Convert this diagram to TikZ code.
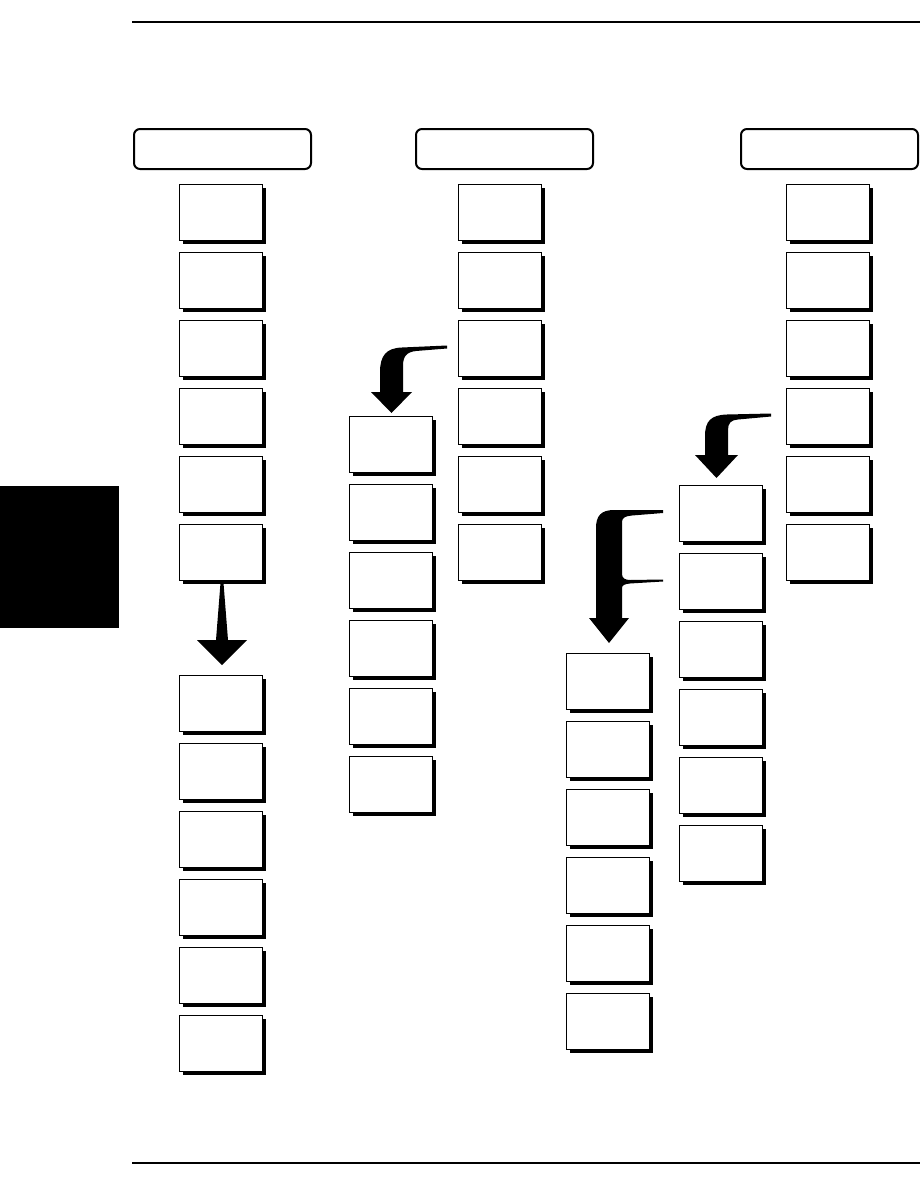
\documentclass[tikz,border=0pt]{standalone}
\usetikzlibrary{shadows}
\begin{document}
\begin{tikzpicture}[x=0.75pt,y=-0.75pt,
  card/.style={draw=black, line width=1.1pt, fill=white, minimum width=62.25pt, minimum height=42pt, inner sep=0pt, anchor=north west,
    drop shadow={shadow xshift=2.4pt, shadow yshift=-2.4pt, fill=black, opacity=1}},
  header/.style={draw=black, line width=1.5pt, rounded corners=4.5pt, minimum width=132.75pt, minimum height=30pt, inner sep=0pt, anchor=north west},
  rule/.style={line width=1.1pt},
  blockarrow/.style={fill=black, draw=none}]
\useasboundingbox (0,0) rectangle (924,1181);
% page rules and tab
\draw[rule] (132,22) -- (920,22);
\draw[rule] (132,1163) -- (920,1163);
\fill[black] (0,486) rectangle (119,628);
% headers
\node[header] (h1) at (133,128) {};
\node[header] (h2) at (415,128) {};
\node[header] (h3) at (740,128) {};
% column 1
\foreach \y [count=\n] in {184,252,320,388,456,524} \node[card] (a\n) at (179,\y) {};
\foreach \y [count=\n] in {675,743,811,879,947,1015} \node[card] (b\n) at (179,\y) {};
% column 2
\foreach \y [count=\n] in {184,252,320,388,456,524} \node[card] (c\n) at (458,\y) {};
\foreach \y [count=\n] in {416,484,552,620,688,756} \node[card] (d\n) at (349,\y) {};
% column 3
\foreach \y [count=\n] in {184,252,320,388,456,524} \node[card] (e\n) at (786,\y) {};
\foreach \y [count=\n] in {485,553,621,689,757,825} \node[card] (f\n) at (679,\y) {};
\foreach \y [count=\n] in {653,721,789,857,925,993} \node[card] (g\n) at (566,\y) {};
% arrows
\fill[blockarrow] (220.5,583) -- (223.5,583) -- (228,640) -- (247,640) -- (222,665) -- (197,640) -- (216,640) -- cycle;
\fill[blockarrow] (447,345.5) -- (402,347.5) .. controls (386,348) and (380,356) .. (380,372) -- (380,392) -- (371,392) -- (391.5,413) -- (412,392) -- (403,392) -- (403,366) .. controls (403,357) and (406,352) .. (416,351) -- (447,348.5) -- cycle;
\fill[blockarrow] (771,413.5) -- (727,414.5) .. controls (711,415) and (705,421) .. (705,436) -- (705,455) -- (695,455) -- (716.5,478) -- (738,455) -- (728,455) -- (728,430) .. controls (728,423) and (731,420) .. (738,419.5) -- (771,416.5) -- cycle;
\fill[blockarrow] (663,510) -- (614,510) .. controls (601,510) and (596,516) .. (596,528) -- (596,618) -- (589,618) -- (609,643) -- (629,618) -- (622,618) -- (622,588) .. controls (622,585) and (625,584) .. (630,583.5) -- (663,581.5) -- (663,579.5) -- (630,580) .. controls (625,580) and (622,578) .. (622,574) -- (622,522) .. controls (622,518) and (625,516) .. (632,515.5) -- (663,513) -- cycle;
\end{tikzpicture}
\end{document}
